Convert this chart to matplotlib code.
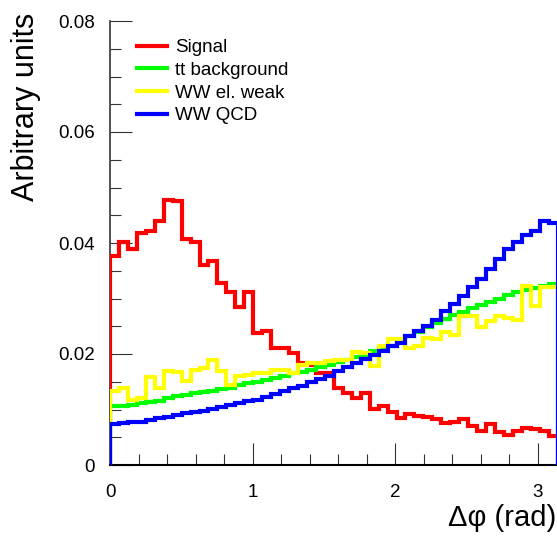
#!/usr/bin/env python3

import numpy as np
import matplotlib
matplotlib.use('Agg')
import matplotlib.pyplot as plt
from matplotlib.ticker import MultipleLocator

plt.rcParams['font.family'] = ['Liberation Sans', 'DejaVu Sans']

# 50 bins of delta phi from 0 to pi
n_bins = 50
x_min, x_max = 0.0, np.pi

signal = [0.0377, 0.0401, 0.0389, 0.0418, 0.0422, 0.0439, 0.0477, 0.0475, 0.0408, 0.0402,
          0.0361, 0.0367, 0.0328, 0.0312, 0.0284, 0.0311, 0.0237, 0.0241, 0.0211, 0.0211,
          0.0201, 0.0184, 0.0181, 0.0166, 0.0166, 0.0139, 0.0130, 0.0121, 0.0130, 0.0101,
          0.0106, 0.0095, 0.0084, 0.0091, 0.0089, 0.0087, 0.0083, 0.0076, 0.0077, 0.0082,
          0.0070, 0.0062, 0.0074, 0.0060, 0.0054, 0.0062, 0.0066, 0.0065, 0.0062, 0.0053]

tt_bkg = [0.0106, 0.0107, 0.0109, 0.0112, 0.0114, 0.0116, 0.0121, 0.0124, 0.0127, 0.0130,
          0.0132, 0.0134, 0.0137, 0.0139, 0.0144, 0.0147, 0.0150, 0.0154, 0.0157, 0.0161,
          0.0165, 0.0168, 0.0172, 0.0177, 0.0181, 0.0186, 0.0190, 0.0195, 0.0199, 0.0205,
          0.0210, 0.0215, 0.0225, 0.0232, 0.0240, 0.0248, 0.0256, 0.0263, 0.0270, 0.0276,
          0.0282, 0.0288, 0.0294, 0.0300, 0.0306, 0.0311, 0.0315, 0.0319, 0.0323, 0.0327]

ww_ew = [0.0133, 0.0139, 0.0118, 0.0121, 0.0159, 0.0139, 0.0170, 0.0168, 0.0151, 0.0171,
         0.0175, 0.0190, 0.0169, 0.0145, 0.0160, 0.0163, 0.0166, 0.0165, 0.0172, 0.0171,
         0.0166, 0.0181, 0.0184, 0.0184, 0.0187, 0.0190, 0.0190, 0.0203, 0.0202, 0.0178,
         0.0214, 0.0227, 0.0227, 0.0210, 0.0214, 0.0229, 0.0227, 0.0240, 0.0235, 0.0268,
         0.0268, 0.0248, 0.0259, 0.0268, 0.0264, 0.0262, 0.0323, 0.0287, 0.0320, 0.0320]

ww_qcd = [0.0074, 0.0076, 0.0077, 0.0078, 0.0081, 0.0084, 0.0087, 0.0090, 0.0093, 0.0095,
          0.0098, 0.0101, 0.0104, 0.0108, 0.0111, 0.0115, 0.0118, 0.0123, 0.0128, 0.0133,
          0.0138, 0.0143, 0.0149, 0.0155, 0.0161, 0.0169, 0.0177, 0.0184, 0.0191, 0.0199,
          0.0206, 0.0214, 0.0220, 0.0232, 0.0241, 0.0250, 0.0262, 0.0277, 0.0290, 0.0305,
          0.0320, 0.0335, 0.0353, 0.0371, 0.0389, 0.0401, 0.0414, 0.0422, 0.0439, 0.0436]

labels = ['Signal', 'tt background', 'WW el. weak', 'WW QCD']
colors = ['#ff0000', '#00ff00', '#ffff00', '#0000ff']

edges = np.linspace(x_min, x_max, n_bins + 1)

fig = plt.figure(figsize=(5.57, 5.39), dpi=100)
ax = fig.add_axes([110 / 557, 1 - 465 / 539, 447.7 / 557, 444 / 539])

for vals, lab, col in zip([signal, tt_bkg, ww_ew, ww_qcd], labels, colors):
    ax.stairs(vals, edges, baseline=0, color=col, lw=3, label=lab, zorder=3)

ax.set_xlim(x_min, x_max)
ax.set_ylim(0, 0.08)

ax.xaxis.set_major_locator(MultipleLocator(1))
ax.xaxis.set_minor_locator(MultipleLocator(0.2))
ax.yaxis.set_minor_locator(MultipleLocator(0.005))
ax.set_yticks([0, 0.02, 0.04, 0.06, 0.08])
ax.set_yticklabels(['0', '0.02', '0.04', '0.06', '0.08'])

ax.tick_params(which='major', direction='in', length=16, width=0.8, color='#333333',
               labelsize=13.5)
ax.tick_params(which='minor', direction='in', length=8, width=0.8, color='#333333')
ax.tick_params(axis='y', which='major', pad=11)
ax.tick_params(axis='x', which='major', pad=14)

for side in ['top', 'right']:
    ax.spines[side].set_visible(False)
ax.spines['left'].set_linewidth(1.2)
ax.spines['bottom'].set_linewidth(1.5)
ax.spines['left'].set_color('#333333')

fig.text(26 / 557, 1 - 13 / 539, 'Arbitrary units', rotation=90, ha='center', va='top',
         fontsize=22)
fig.text(556 / 557, 1 - 518 / 539, '\u0394\u03c6 (rad)', ha='right', va='center',
         fontsize=21)

leg = ax.legend(loc='upper left', bbox_to_anchor=(137 / 557, 1 - 39 / 539),
                bbox_transform=fig.transFigure, frameon=False, fontsize=13.5,
                handlelength=1.6, handletextpad=0.45, labelspacing=0.3,
                borderpad=0, borderaxespad=0)
for h in leg.get_lines():
    h.set_linewidth(3)

fig.savefig('out.png', dpi=100)
